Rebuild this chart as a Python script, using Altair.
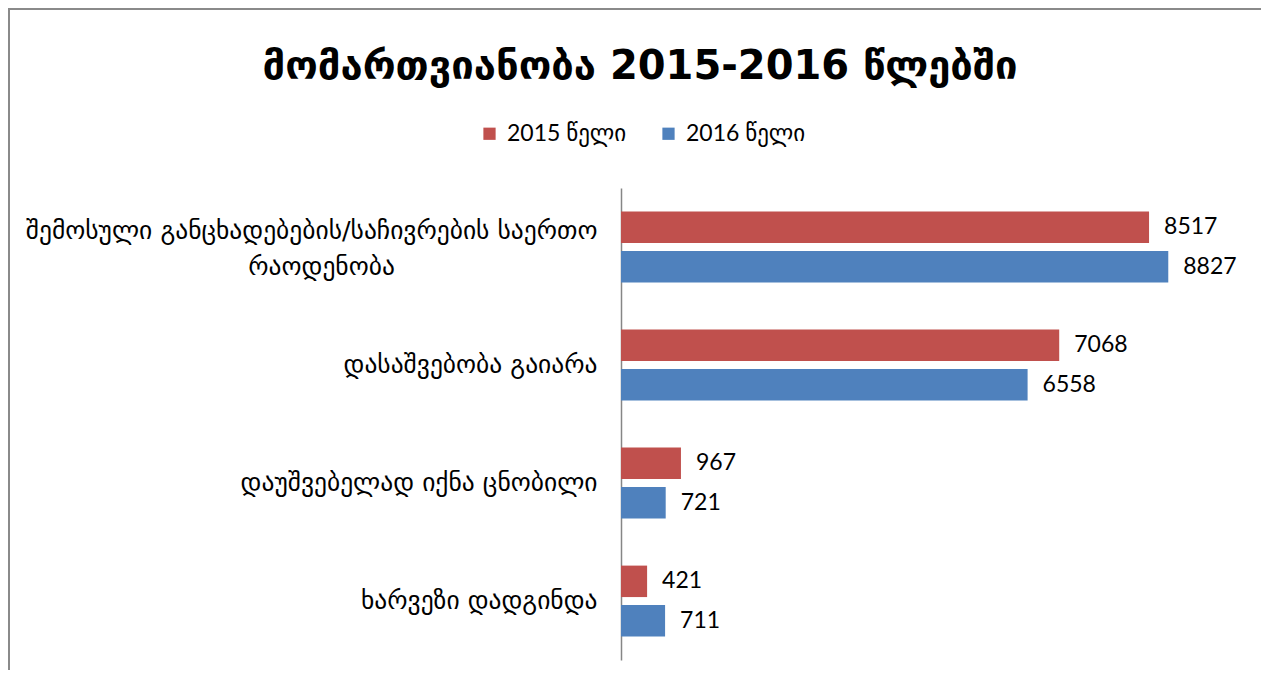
import altair as alt
import pandas as pd

categories = [
    "შემოსული განცხადებების/საჩივრების საერთო\nრაოდენობა",
    "დასაშვებობა გაიარა",
    "დაუშვებელად იქნა ცნობილი",
    "ხარვეზი დადგინდა",
]
series = ["2015 წელი", "2016 წელი"]
values_2015 = [8517, 7068, 967, 421]
values_2016 = [8827, 6558, 721, 711]

rows = []
for c, a, b in zip(categories, values_2015, values_2016):
    rows.append({"cat": c, "year": series[0], "value": a})
    rows.append({"cat": c, "year": series[1], "value": b})
df = pd.DataFrame(rows)

FONT = "Lato, DejaVu Sans"
GEO = "DejaVu Sans"

# the wrapped second line is centred under the first: pad it with no-break spaces
PAD = "\u00a0" * 25 + "\u200b"
label_expr = ("indexof(datum.label, '\\n') > 0 ? [split(datum.label, '\\n')[0], "
              "split(datum.label, '\\n')[1] + '" + PAD + "'] : datum.label")

y_enc = alt.Y("cat:N", sort=categories,
              scale=alt.Scale(paddingInner=0.4, paddingOuter=0.2),
              axis=alt.Axis(title=None, ticks=False, domainColor="#868686", domainWidth=1.5,
                            labelFont=GEO, labelFontSize=25.5, labelColor="#000000",
                            labelPadding=24, labelLimit=800,
                            labelOffset={"condition": {"test": "indexof(datum.value, '\\n') > 0",
                                                       "value": -16}, "value": 0},
                            labelExpr=label_expr, labelLineHeight=36))
x_enc = alt.X("value:Q", scale=alt.Scale(domain=[0, 10000]), axis=None)
yoff = alt.YOffset("year:N", sort=series, scale=alt.Scale(paddingInner=0.2))
color = alt.Color("year:N", sort=series,
                  scale=alt.Scale(domain=series, range=["#C0504D", "#4F81BD"]),
                  legend=alt.Legend(title=None, orient="none", direction="horizontal",
                                    legendX=-143, legendY=-66, symbolType="square",
                                    symbolSize=150, symbolStrokeWidth=0,
                                    labelFont=FONT, labelFontSize=23, labelColor="#000000",
                                    columnPadding=30, labelOffset=6))

bars = alt.Chart(df).mark_bar().encode(y=y_enc, x=x_enc, yOffset=yoff, color=color)
labels = alt.Chart(df).mark_text(align="left", baseline="middle", dx=15,
                                 font=FONT, fontSize=23, color="#000000").encode(
    y=alt.Y("cat:N", sort=categories), x="value:Q", yOffset=yoff, text="value:Q")

# chart-area frame (top and left edges, as in the reference)
frame_src = pd.DataFrame({"k": [0]})
frame_top = alt.Chart(frame_src).mark_rule(color="#8a8a8a", strokeWidth=2).encode(
    x=alt.value(-613), x2=alt.value(660), y=alt.value(-179))
frame_left = alt.Chart(frame_src).mark_rule(color="#8a8a8a", strokeWidth=2).encode(
    x=alt.value(-612), y=alt.value(-180), y2=alt.value(500))

chart = alt.layer(frame_top, frame_left, bars, labels).properties(
    width=620, height=472,
    background="white",
    autosize=alt.AutoSizeParams(type="none"),
    padding={"left": 613, "top": 180, "right": 20, "bottom": 10},
    title=alt.TitleParams("მომართვიანობა 2015-2016 წლებში", font=GEO, fontSize=40,
                          fontWeight="bold", color="#000000", anchor="middle",
                          dx=-291, offset=-80),
).configure_view(strokeOpacity=0, strokeWidth=0)

chart.save("out.html", embed_options={"renderer": "svg", "actions": False})
